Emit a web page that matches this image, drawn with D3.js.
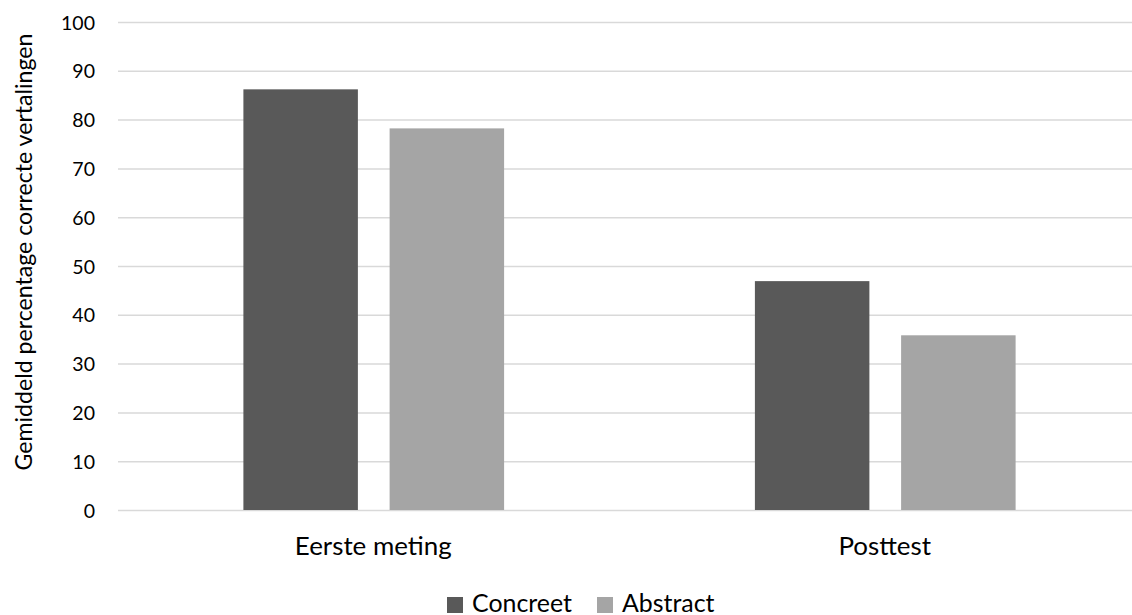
<!DOCTYPE html>
<html>
<head>
<meta charset="utf-8">
<script src="https://cdn.jsdelivr.net/npm/d3@7"></script>
<style>
  body { margin: 0; background: #fff; }
  svg text { font-family: Lato, "Open Sans", sans-serif; fill: #000; }
</style>
</head>
<body>
<svg id="chart" width="1132" height="615"></svg>
<script>
// Measurements and series
const categories = ["Eerste meting", "Posttest"];
const seriesNames = ["Concreet", "Abstract"];
const concreet = [86.2, 46.9];
const abstract = [78.2, 35.8];
const yTicks = [0, 10, 20, 30, 40, 50, 60, 70, 80, 90, 100];
const colors = ["#595959", "#A5A5A5"];

const rows = categories.map((c, i) => ({ cat: c, values: [concreet[i], abstract[i]] }));

const svg = d3.select("#chart");
const plot = { left: 118, right: 1141, top: 22, bottom: 510 };

// Scale a text selection's font size so that one sample node spans the wanted width
function fitWidth(sel, sampleNode, width) {
  const base = 20;
  sel.style("font-size", base + "px");
  const w = sampleNode.getComputedTextLength();
  sel.style("font-size", (base * width / w).toFixed(2) + "px");
}

const y = d3.scaleLinear().domain([0, 100]).range([plot.bottom, plot.top]);
const x0 = d3.scaleBand().domain(categories).range([plot.left, plot.right]).padding(0);
const outer = 125.4;
const x1 = d3.scaleBand().domain(seriesNames)
  .range([outer, x0.bandwidth() - outer]).paddingInner(0.217).paddingOuter(0);

// Gridlines
svg.append("g")
  .selectAll("line").data(yTicks).join("line")
  .attr("x1", plot.left).attr("x2", plot.right)
  .attr("y1", d => y(d) + 0.5).attr("y2", d => y(d) + 0.5)
  .attr("stroke", "#D9D9D9").attr("stroke-width", 1.5);

// Y tick labels
const yAxis = d3.axisLeft(y).tickValues(yTicks).tickSize(0).tickPadding(0);
const ya = svg.append("g").attr("transform", `translate(95,0)`).call(yAxis);
ya.select(".domain").remove();
const tickText = ya.selectAll("text").attr("font-family", null).attr("font-size", null)
  .attr("dy", "0.36em").style("fill", "#000");
fitWidth(tickText, tickText.filter(d => d === 100).node(), 34);

// Bars
const groups = svg.append("g").selectAll("g").data(rows).join("g")
  .attr("transform", d => `translate(${x0(d.cat)},0)`);
groups.selectAll("rect").data(d => d.values.map((v, i) => ({ key: seriesNames[i], v, i })))
  .join("rect")
  .attr("x", d => x1(d.key))
  .attr("width", x1.bandwidth())
  .attr("y", d => y(d.v))
  .attr("height", d => y(0) - y(d.v))
  .attr("fill", d => colors[d.i]);

// Category labels
const catText = svg.append("g").selectAll("text").data(categories).join("text")
  .attr("x", d => x0(d) + x0.bandwidth() / 2 - 0.5)
  .attr("y", 555)
  .attr("text-anchor", "middle")
  .text(d => d);
fitWidth(catText, catText.node(), 157);

// Y axis title
const yTitle = svg.append("text")
  .attr("transform", "translate(32,252) rotate(-90)")
  .attr("text-anchor", "middle")
  .text("Gemiddeld percentage correcte vertalingen");
fitWidth(yTitle, yTitle.node(), 437);

// Legend
const legend = svg.append("g").attr("transform", "translate(447,597)");
const legendX = [0, 150];
const legText = [];
seriesNames.forEach((s, i) => {
  const g = legend.append("g").attr("transform", `translate(${legendX[i]},0)`);
  g.append("rect").attr("width", 16).attr("height", 16).attr("fill", colors[i]);
  legText.push(g.append("text").attr("x", 25).attr("y", 15).text(s).node());
});
fitWidth(d3.selectAll(legText), legText[0], 100);
</script>
</body>
</html>
